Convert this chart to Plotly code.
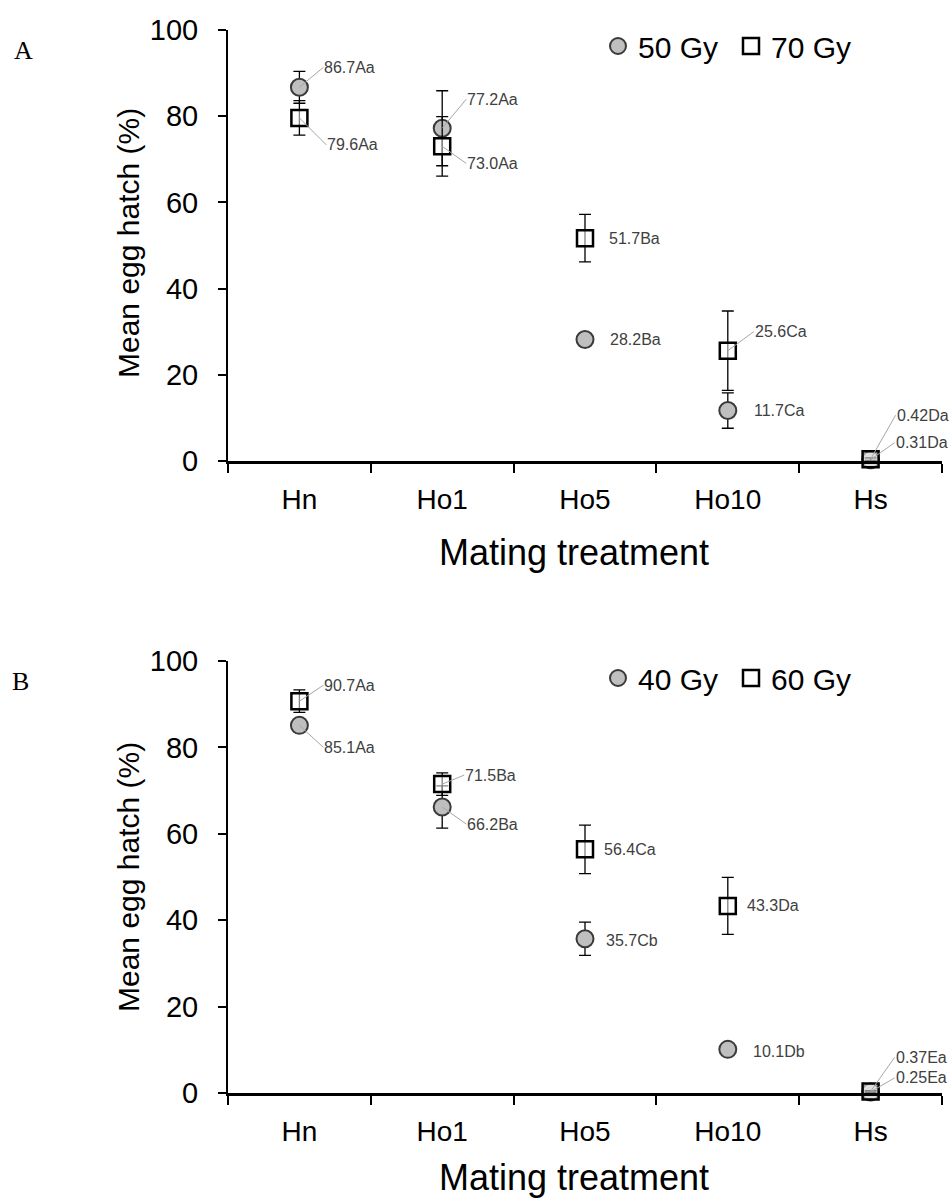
import plotly.graph_objects as go

# ---------------- data ----------------
categories = ["Hn", "Ho1", "Ho5", "Ho10", "Hs"]

# Panel A
a_50_mean = [86.7, 77.2, 28.2, 11.7, 0.31]
a_50_se = [3.7, 8.7, 1.0, 4.1, 0.2]
a_50_lab = ["86.7Aa", "77.2Aa", "28.2Ba", "11.7Ca", "0.31Da"]
a_70_mean = [79.6, 73.0, 51.7, 25.6, 0.42]
a_70_se = [4.0, 6.9, 5.5, 9.2, 0.3]
a_70_lab = ["79.6Aa", "73.0Aa", "51.7Ba", "25.6Ca", "0.42Da"]

# Panel B
b_40_mean = [85.1, 66.2, 35.7, 10.1, 0.25]
b_40_se = [1.5, 4.9, 3.85, 1.0, 0.15]
b_40_lab = ["85.1Aa", "66.2Ba", "35.7Cb", "10.1Db", "0.25Ea"]
b_60_mean = [90.7, 71.5, 56.4, 43.3, 0.37]
b_60_se = [2.6, 2.6, 5.6, 6.6, 0.2]
b_60_lab = ["90.7Aa", "71.5Ba", "56.4Ca", "43.3Da", "0.37Ea"]

y_ticks = [0, 20, 40, 60, 80, 100]

# ---------------- label placement (pixel offsets, leader flag) ----------------
a_50_off = [(24, -20, True), (24, -29, True), (23, 0, False), (24, 0, False), (24, -17, True)]
a_70_off = [(27, 27, True), (24, 17, True), (22, 0, False), (26, -19, True), (25, -44, True)]
b_40_off = [(24, 22, True), (24, 17, True), (19, 2, False), (23, 2, False), (24, -14, True)]
b_60_off = [(24, -16, True), (22, -9, True), (17, 0, False), (17, 0, False), (24, -34, True)]

SANS = "Liberation Sans, Arial, sans-serif"
NARROW = "Liberation Sans Narrow, Arial Narrow, Liberation Sans, Arial, sans-serif"
SERIF = "Liberation Serif, Times New Roman, serif"

W, H = 952, 1200
fig = go.Figure()

circle_style = dict(symbol="circle", size=17, color="#bfbfbf", line=dict(color="#3a3a3a", width=2))
square_style = dict(symbol="square", size=16, color="rgba(255,255,255,0.5)", line=dict(color="black", width=2.5))
err_style = dict(type="data", color="black", thickness=1.3, width=6, visible=True)


def add_series(mean, se, name, style, xa, ya, legend):
    fig.add_trace(go.Scatter(
        x=categories, y=mean, mode="markers", name=name,
        marker=style, error_y=dict(array=se, **err_style),
        xaxis=xa, yaxis=ya, legend=legend, cliponaxis=False,
        hoverinfo="skip",
    ))


add_series(a_50_mean, a_50_se, "50 Gy", circle_style, "x", "y", "legend")
add_series(a_70_mean, a_70_se, "70 Gy", square_style, "x", "y", "legend")
add_series(b_40_mean, b_40_se, "40 Gy", circle_style, "x2", "y2", "legend2")
add_series(b_60_mean, b_60_se, "60 Gy", square_style, "x2", "y2", "legend2")

annotations = []


def add_labels(mean, labels, offsets, xref, yref):
    for cat, v, lab, (dx, dy, leader) in zip(categories, mean, labels, offsets):
        base = dict(x=cat, y=v, xref=xref, yref=yref, text=lab,
                    font=dict(family=NARROW, size=16, color="#404040"),
                    xanchor="left", yanchor="middle")
        if leader:
            base.update(showarrow=True, ax=dx, ay=dy, arrowhead=0, arrowwidth=1,
                        arrowcolor="#a6a6a6", standoff=0, borderpad=0)
        else:
            base.update(showarrow=False, xshift=dx, yshift=-dy)
        annotations.append(base)


add_labels(a_50_mean, a_50_lab, a_50_off, "x", "y")
add_labels(a_70_mean, a_70_lab, a_70_off, "x", "y")
add_labels(b_40_mean, b_40_lab, b_40_off, "x2", "y2")
add_labels(b_60_mean, b_60_lab, b_60_off, "x2", "y2")

# axis titles and panel letters
for ycen in (243, 877):
    annotations.append(dict(text="Mean egg hatch (%)", x=128 / W, y=1 - ycen / H, xref="paper", yref="paper",
                            showarrow=False, textangle=-90, font=dict(family=SANS, size=30, color="black"),
                            xanchor="center", yanchor="middle"))
for ycen in (552, 1177):
    annotations.append(dict(text="Mating treatment", x=574 / W, y=1 - ycen / H, xref="paper", yref="paper",
                            showarrow=False, font=dict(family=SANS, size=36, color="black"),
                            xanchor="center", yanchor="middle"))
for txt, xc, yc in (("A", 23, 51), ("B", 20, 681)):
    annotations.append(dict(text=txt, x=xc / W, y=1 - yc / H, xref="paper", yref="paper",
                            showarrow=False, font=dict(family=SERIF, size=26, color="black"),
                            xanchor="center", yanchor="middle"))

xdom = [228 / W, 942 / W]
xaxis_style = dict(type="category", categoryorder="array", categoryarray=categories,
                   range=[-0.5, 4.5], tickson="boundaries", ticks="outside", ticklen=9,
                   tickwidth=1.5, tickcolor="black", showline=True, linecolor="black",
                   linewidth=2.5, showgrid=False, zeroline=False, automargin=False,
                   tickfont=dict(family=SANS, size=28, color="black"), ticklabelstandoff=12,
                   domain=xdom, fixedrange=True)
yaxis_style = dict(range=[0, 100], tickvals=y_ticks, ticks="outside", ticklen=8, tickwidth=2,
                   tickcolor="black", showline=True, linecolor="black", linewidth=2,
                   showgrid=False, zeroline=False, automargin=False,
                   tickfont=dict(family=SANS, size=29, color="black"), ticklabelstandoff=14,
                   fixedrange=True)

legend_style = dict(orientation="h", xanchor="left", yanchor="middle",
                    font=dict(family=SANS, size=30, color="black"), bgcolor="rgba(0,0,0,0)",
                    itemwidth=30, entrywidth=88, entrywidthmode="pixels", borderwidth=0)

fig.update_layout(
    template="none",
    width=W, height=H, margin=dict(l=0, r=0, t=0, b=0, autoexpand=False),
    paper_bgcolor="white", plot_bgcolor="white",
    xaxis=dict(**xaxis_style, anchor="y"),
    yaxis=dict(**yaxis_style, domain=[1 - 461 / H, 1 - 30 / H], anchor="x"),
    xaxis2=dict(**xaxis_style, anchor="y2"),
    yaxis2=dict(**yaxis_style, domain=[1 - 1093 / H, 1 - 661 / H], anchor="x2"),
    legend=dict(**legend_style, x=598 / W, y=1 - 46 / H),
    legend2=dict(**legend_style, x=598 / W, y=1 - 678 / H),
    annotations=annotations,
    showlegend=True,
)

fig.write_html("out.html")
